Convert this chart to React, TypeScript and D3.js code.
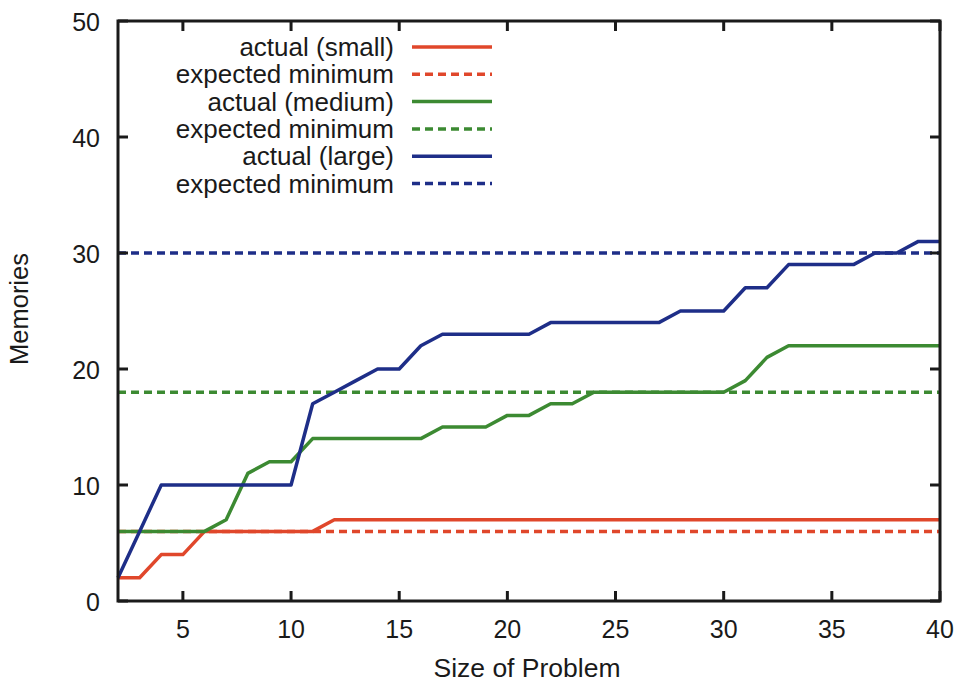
import React, { useEffect, useRef } from 'react';
import * as d3 from 'd3';

const sizes = [2, 3, 4, 5, 6, 7, 8, 9, 10, 11, 12, 13, 14, 15, 16, 17, 18, 19, 20, 21, 22, 23, 24, 25, 26, 27, 28, 29, 30, 31, 32, 33, 34, 35, 36, 37, 38, 39, 40];
const smallActual = [2, 2, 4, 4, 6, 6, 6, 6, 6, 6, 7, 7, 7, 7, 7, 7, 7, 7, 7, 7, 7, 7, 7, 7, 7, 7, 7, 7, 7, 7, 7, 7, 7, 7, 7, 7, 7, 7, 7];
const mediumActual = [6, 6, 6, 6, 6, 7, 11, 12, 12, 14, 14, 14, 14, 14, 14, 15, 15, 15, 16, 16, 17, 17, 18, 18, 18, 18, 18, 18, 18, 19, 21, 22, 22, 22, 22, 22, 22, 22, 22];
const largeActual = [2, 6, 10, 10, 10, 10, 10, 10, 10, 17, 18, 19, 20, 20, 22, 23, 23, 23, 23, 23, 24, 24, 24, 24, 24, 24, 25, 25, 25, 27, 27, 29, 29, 29, 29, 30, 30, 31, 31];
const expectedMin = [6, 18, 30];
const seriesNames = ['small', 'medium', 'large'];
const colors = ['#e0472b', '#3c8a32', '#1e2e88'];
const xTicks = [5, 10, 15, 20, 25, 30, 35, 40];
const yTicks = [0, 10, 20, 30, 40, 50];

export default function App() {
  const ref = useRef<SVGSVGElement>(null);

  useEffect(() => {
    const svg = d3.select(ref.current);
    svg.selectAll('*').remove();
    const left = 118, right = 940, top = 21, bottom = 601;
    const x = d3.scaleLinear().domain([2, 40]).range([left, right]);
    const y = d3.scaleLinear().domain([0, 50]).range([bottom, top]);
    const font = 'Liberation Sans, Arial, sans-serif';
    const ink = '#1a1a1a';

    const actuals = [smallActual, mediumActual, largeActual];
    const line = d3.line<number>()
      .x((d, i) => x(sizes[i]))
      .y(d => y(d));

    const g = svg.append('g');

    // expected minimum dashed lines
    expectedMin.forEach((v, i) => {
      g.append('line')
        .attr('x1', x(2)).attr('x2', x(40))
        .attr('y1', y(v)).attr('y2', y(v))
        .attr('stroke', colors[i])
        .attr('stroke-width', 3.5)
        .attr('stroke-dasharray', '8,5');
    });

    actuals.forEach((data, i) => {
      g.append('path')
        .datum(data)
        .attr('d', line)
        .attr('fill', 'none')
        .attr('stroke', colors[i])
        .attr('stroke-width', 3.5)
        .attr('stroke-linejoin', 'round');
    });

    // frame
    svg.append('rect')
      .attr('x', left).attr('y', top)
      .attr('width', right - left).attr('height', bottom - top)
      .attr('fill', 'none').attr('stroke', ink).attr('stroke-width', 3);

    const tickLen = 10;
    xTicks.forEach(t => {
      svg.append('line').attr('x1', x(t)).attr('x2', x(t)).attr('y1', bottom).attr('y2', bottom - tickLen)
        .attr('stroke', ink).attr('stroke-width', 3);
      svg.append('line').attr('x1', x(t)).attr('x2', x(t)).attr('y1', top).attr('y2', top + tickLen)
        .attr('stroke', ink).attr('stroke-width', 3);
      svg.append('text').attr('x', x(t)).attr('y', bottom + 37)
        .attr('text-anchor', 'middle').attr('font-family', font).attr('font-size', 25).attr('fill', ink)
        .text(t);
    });
    yTicks.forEach(t => {
      svg.append('line').attr('x1', left).attr('x2', left + tickLen).attr('y1', y(t)).attr('y2', y(t))
        .attr('stroke', ink).attr('stroke-width', 3);
      svg.append('line').attr('x1', right).attr('x2', right - tickLen).attr('y1', y(t)).attr('y2', y(t))
        .attr('stroke', ink).attr('stroke-width', 3);
      svg.append('text').attr('x', left - 18).attr('y', y(t) + 10)
        .attr('text-anchor', 'end').attr('font-family', font).attr('font-size', 25).attr('fill', ink)
        .text(t);
    });

    svg.append('text').attr('x', 527).attr('y', 677)
      .attr('text-anchor', 'middle').attr('font-family', font).attr('font-size', 26.5).attr('fill', ink)
      .text('Size of Problem');
    svg.append('text').attr('transform', `translate(28,309) rotate(-90)`)
      .attr('text-anchor', 'middle').attr('font-family', font).attr('font-size', 25.5).attr('fill', ink)
      .text('Memories');

    // legend
    const legendRows: { label: string; color: string; dashed: boolean }[] = [];
    seriesNames.forEach((n, i) => {
      legendRows.push({ label: `actual (${n})`, color: colors[i], dashed: false });
      legendRows.push({ label: 'expected minimum', color: colors[i], dashed: true });
    });
    legendRows.forEach((r, i) => {
      const cy = 47 + i * 27.3;
      svg.append('text').attr('x', 394).attr('y', cy + 9)
        .attr('text-anchor', 'end').attr('font-family', font).attr('font-size', 26).attr('fill', ink)
        .text(r.label);
      svg.append('line').attr('x1', 412).attr('x2', 492).attr('y1', cy).attr('y2', cy)
        .attr('stroke', r.color).attr('stroke-width', 3.5)
        .attr('stroke-dasharray', r.dashed ? '8,5' : null);
    });
  }, []);

  return (
    <svg ref={ref} width={961} height={683} style={{ position: 'absolute', left: 0, top: 0, background: '#fff' }} />
  );
}
